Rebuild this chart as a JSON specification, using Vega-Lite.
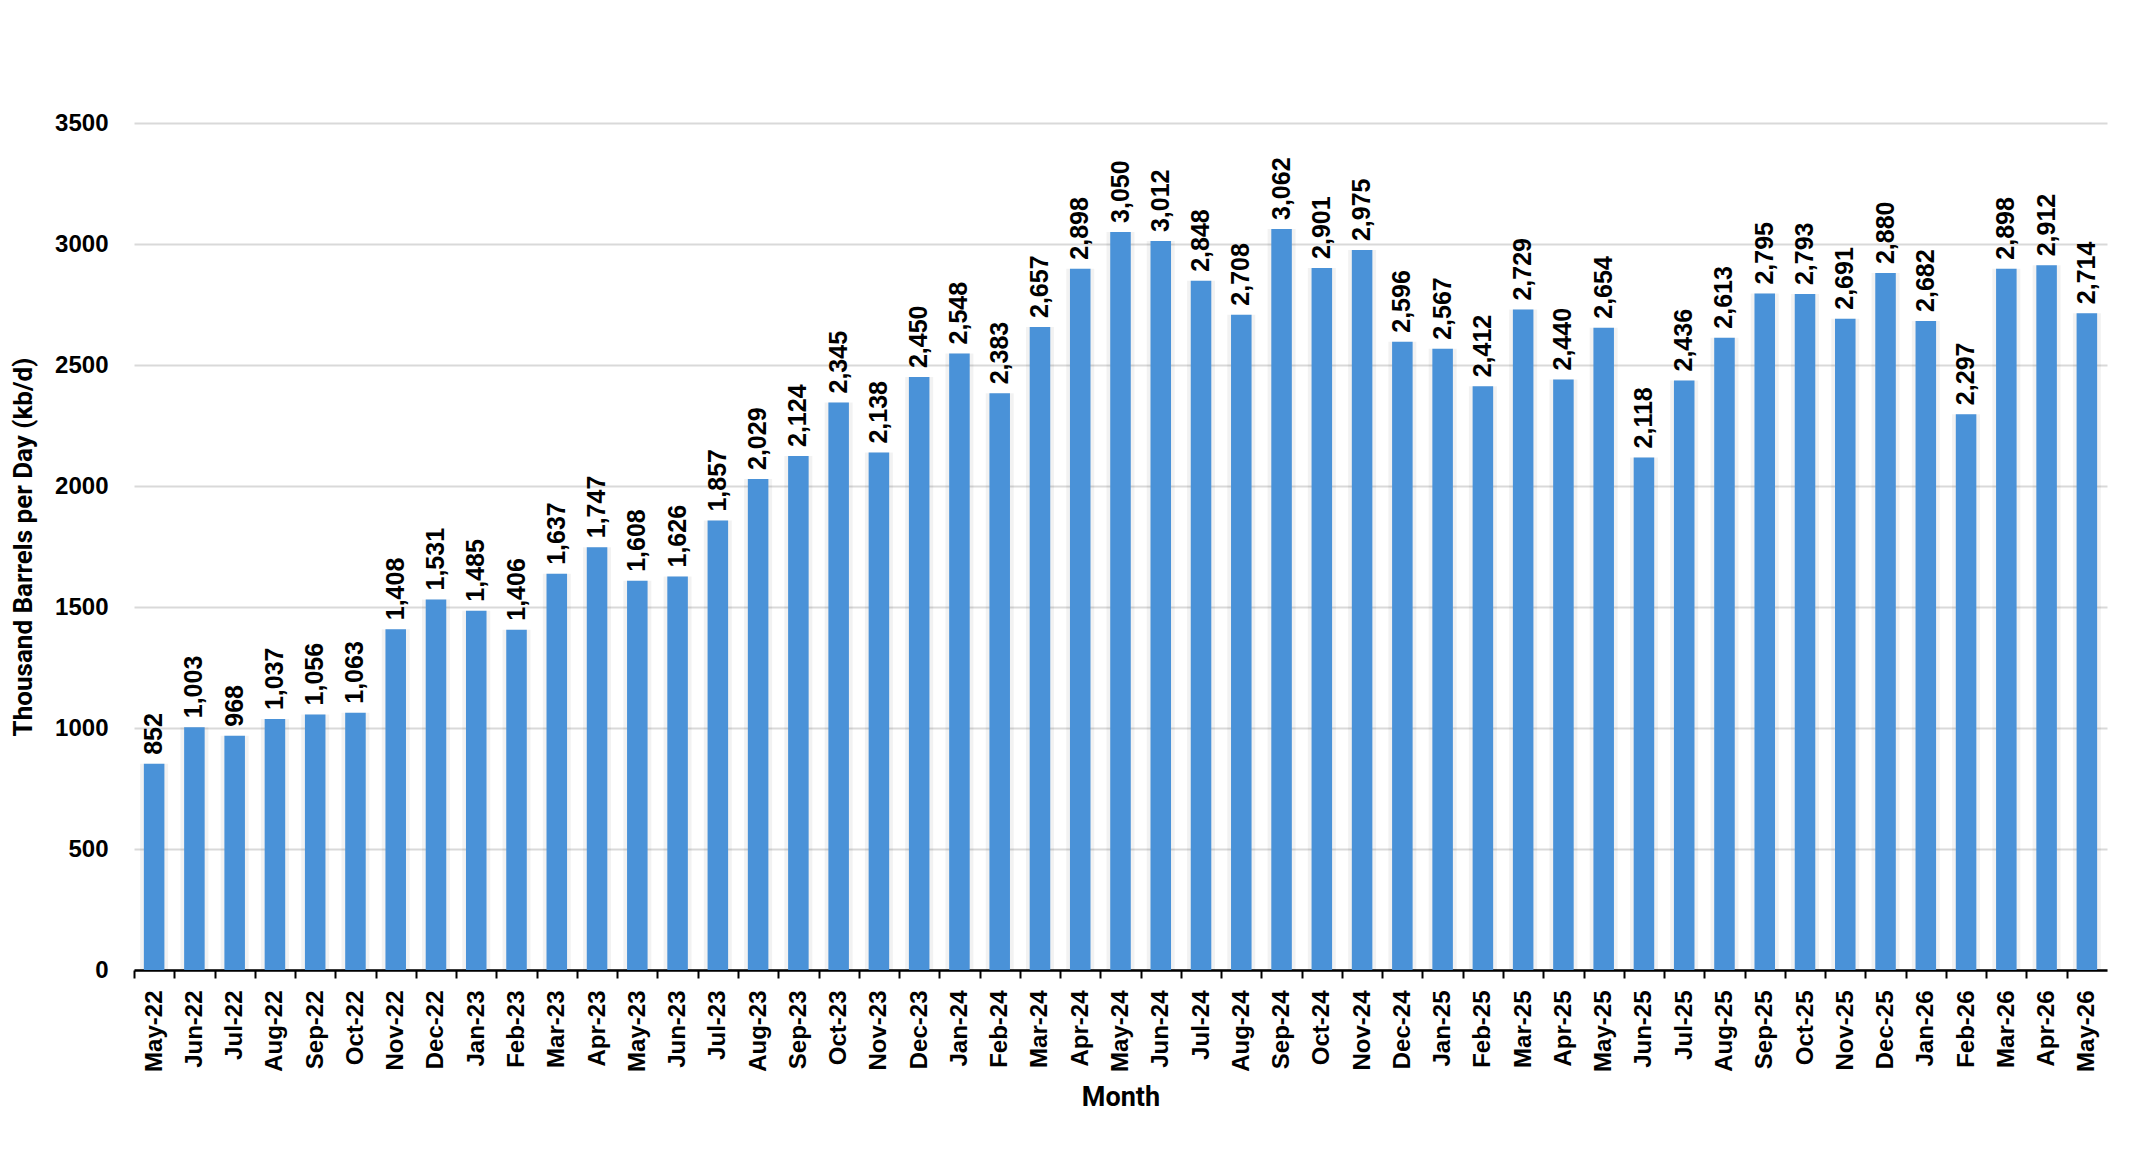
{
  "$schema": "https://vega.github.io/schema/vega-lite/v6.json",
  "width": 1973,
  "height": 847,
  "autosize": "none",
  "padding": {"left": 134, "top": 123, "right": 38, "bottom": 185},
  "background": "white",
  "data": {
    "values": [
      {"month": "May-22", "kbd": 852},
      {"month": "Jun-22", "kbd": 1003},
      {"month": "Jul-22", "kbd": 968},
      {"month": "Aug-22", "kbd": 1037},
      {"month": "Sep-22", "kbd": 1056},
      {"month": "Oct-22", "kbd": 1063},
      {"month": "Nov-22", "kbd": 1408},
      {"month": "Dec-22", "kbd": 1531},
      {"month": "Jan-23", "kbd": 1485},
      {"month": "Feb-23", "kbd": 1406},
      {"month": "Mar-23", "kbd": 1637},
      {"month": "Apr-23", "kbd": 1747},
      {"month": "May-23", "kbd": 1608},
      {"month": "Jun-23", "kbd": 1626},
      {"month": "Jul-23", "kbd": 1857},
      {"month": "Aug-23", "kbd": 2029},
      {"month": "Sep-23", "kbd": 2124},
      {"month": "Oct-23", "kbd": 2345},
      {"month": "Nov-23", "kbd": 2138},
      {"month": "Dec-23", "kbd": 2450},
      {"month": "Jan-24", "kbd": 2548},
      {"month": "Feb-24", "kbd": 2383},
      {"month": "Mar-24", "kbd": 2657},
      {"month": "Apr-24", "kbd": 2898},
      {"month": "May-24", "kbd": 3050},
      {"month": "Jun-24", "kbd": 3012},
      {"month": "Jul-24", "kbd": 2848},
      {"month": "Aug-24", "kbd": 2708},
      {"month": "Sep-24", "kbd": 3062},
      {"month": "Oct-24", "kbd": 2901},
      {"month": "Nov-24", "kbd": 2975},
      {"month": "Dec-24", "kbd": 2596},
      {"month": "Jan-25", "kbd": 2567},
      {"month": "Feb-25", "kbd": 2412},
      {"month": "Mar-25", "kbd": 2729},
      {"month": "Apr-25", "kbd": 2440},
      {"month": "May-25", "kbd": 2654},
      {"month": "Jun-25", "kbd": 2118},
      {"month": "Jul-25", "kbd": 2436},
      {"month": "Aug-25", "kbd": 2613},
      {"month": "Sep-25", "kbd": 2795},
      {"month": "Oct-25", "kbd": 2793},
      {"month": "Nov-25", "kbd": 2691},
      {"month": "Dec-25", "kbd": 2880},
      {"month": "Jan-26", "kbd": 2682},
      {"month": "Feb-26", "kbd": 2297},
      {"month": "Mar-26", "kbd": 2898},
      {"month": "Apr-26", "kbd": 2912},
      {"month": "May-26", "kbd": 2714}
    ]
  },
  "encoding": {
    "x": {
      "field": "month",
      "type": "ordinal",
      "sort": null,
      "scale": {"paddingInner": 0.49, "paddingOuter": 0.245},
      "axis": {
        "title": "Month",
        "grid": false,
        "labelAngle": 270,
        "labelAlign": "right",
        "labelBaseline": "middle",
        "labelPadding": 12,
        "labelOverlap": false,
        "labelFont": "Liberation Sans",
        "labelFontWeight": "bold",
        "labelFontSize": 24,
        "labelColor": "black",
        "domainColor": "black",
        "domainWidth": 2.5,
        "tickColor": "black",
        "tickWidth": 2,
        "tickSize": 8,
        "tickOffset": -20.135,
        "labelOffset": 20.135,
        "titleFont": "Roboto",
        "titleFontSize": 27,
        "titleFontWeight": "bold",
        "titleColor": "black",
        "titleY": 127,
        "titleBaseline": "middle"
      }
    },
    "y": {
      "field": "kbd",
      "type": "quantitative",
      "scale": {"domain": [0, 3500], "nice": false},
      "axis": {
        "title": "Thousand Barrels per Day (kb/d)",
        "values": [0, 500, 1000, 1500, 2000, 2500, 3000, 3500],
        "format": "d",
        "domain": false,
        "ticks": false,
        "labelPadding": 26,
        "labelFont": "Liberation Sans",
        "labelFontWeight": "bold",
        "labelFontSize": 24,
        "labelColor": "black",
        "gridColor": "#d9d9d9",
        "gridWidth": 2,
        "titleFont": "Roboto",
        "titleFontSize": 26,
        "titleFontWeight": "bold",
        "titleColor": "black",
        "titleX": -111,
        "titleY": 423.5,
        "titleAngle": 270,
        "titleAlign": "center",
        "titleBaseline": "middle"
      }
    }
  },
  "layer": [
    {"mark": {"type": "bar", "color": "#000000", "opacity": 0.05, "size": 28}},
    {"mark": {"type": "bar", "color": "#4a92d8"}},
    {
      "mark": {
        "type": "text",
        "angle": 270,
        "align": "left",
        "baseline": "middle",
        "dx": 9,
        "font": "Liberation Sans",
        "fontWeight": "bold",
        "fontSize": 25,
        "color": "black"
      },
      "encoding": {"text": {"field": "kbd", "type": "quantitative", "format": ","}}
    }
  ],
  "config": {"view": {"stroke": null}}
}
